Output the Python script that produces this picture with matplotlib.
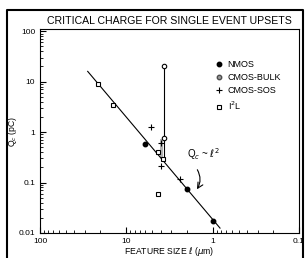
import matplotlib
matplotlib.use("Agg")
import matplotlib.pyplot as plt
from matplotlib.lines import Line2D

plt.rcParams['font.family'] = ['Liberation Sans', 'DejaVu Sans']

# data
nmos_x = [6.0, 2.0, 0.99]
nmos_y = [0.58, 0.075, 0.017]
bulk_x = [3.7, 3.7]
bulk_y = [20.0, 0.75]
sos_x = [5.2, 4.0, 4.0, 2.4]
sos_y = [1.25, 0.62, 0.21, 0.12]
i2l_x = [21.3, 14.3, 4.3, 3.8, 4.3]
i2l_y = [8.8, 3.4, 0.40, 0.29, 0.06]
fit_x = [28.0, 0.82]
fit_y = [16.0, 0.0125]
bar_x = [3.75, 4.05]
bar_y = [0.30, 0.72]

fig = plt.figure(figsize=(3.06, 2.58), dpi=100)
ax = fig.add_axes([0.1307, 0.097, 0.846, 0.79])
ax.set_xscale('log')
ax.set_yscale('log')
ax.set_xlim(100, 0.1)
ax.set_ylim(0.01, 110)

ax.fill_between(bar_x, bar_y[0], bar_y[1], color='0.7', lw=0)
ax.plot(fit_x, fit_y, color='k', lw=0.8)
ax.plot([bulk_x[0], bulk_x[0]], [bulk_y[0], i2l_y[3]], color='k', lw=0.8)

ms = 3.2
ax.plot(nmos_x, nmos_y, 'o', color='k', ms=ms, label='NMOS')
ax.plot(bulk_x, bulk_y, 'o', mfc='white', mec='k', mew=0.8, ms=ms, label='CMOS-BULK')
ax.plot(sos_x, sos_y, '+', color='k', ms=4, mew=0.8, label='CMOS-SOS')
ax.plot(i2l_x, i2l_y, 's', mfc='white', mec='k', mew=0.8, ms=ms, label='I$^{2}$L')

handles = [
    Line2D([], [], marker='o', ls='', color='k', ms=ms),
    Line2D([], [], marker='o', ls='', mfc='0.6', mec='0.3', ms=ms),
    Line2D([], [], marker='+', ls='', color='k', ms=4, mew=0.8),
    Line2D([], [], marker='s', ls='', mfc='white', mec='k', mew=0.8, ms=ms),
]
ax.legend(handles, ['NMOS', 'CMOS-BULK', 'CMOS-SOS', 'I$^{2}$L'],
          loc='upper left', bbox_to_anchor=(0.655, 0.87), frameon=False,
          fontsize=6.5, handlelength=1.0, handletextpad=0.5,
          labelspacing=0.45, borderpad=0)

ax.text(1.98, 0.36, r'Q$_c$ ~ $\ell^2$', fontsize=7, va='center')
ax.annotate('', xy=(1.58, 0.066), xytext=(1.56, 0.2),
            arrowprops=dict(arrowstyle='->', lw=0.8, color='k',
                            connectionstyle='arc3,rad=-0.35'))

ax.tick_params(which='both', direction='in', top=False, right=False,
               labelsize=6)
ax.tick_params(axis='x', which='major', pad=3.5)
ax.tick_params(which='major', length=4)
ax.tick_params(which='minor', length=2)
ax.set_xticks([100, 10, 1, 0.1])
ax.set_xticklabels(['100', '10', '1', '0.1'])
ax.set_yticks([0.01, 0.1, 1, 10, 100])
ax.set_yticklabels(['0.01', '0.1', '1', '10', '100'])
for s in ax.spines.values():
    s.set_linewidth(0.8)

ax.set_xlabel(r'FEATURE SIZE $\ell$ ($\mu$m)', fontsize=6.2, labelpad=0)
ax.set_ylabel('Q$_c$ (pC)', fontsize=6.2, labelpad=0)
fig.text(0.555, 0.92, 'CRITICAL CHARGE FOR SINGLE EVENT UPSETS',
         ha='center', va='center', fontsize=7.6)

# outer frame
x0, x1, y1 = 7 / 306, 303 / 306, 248 / 258
fig.add_artist(Line2D([x0, x0, x1, x1], [0, y1, y1, 0], color='k', lw=1.5,
                      transform=fig.transFigure))

fig.savefig('out.png', dpi=100)
